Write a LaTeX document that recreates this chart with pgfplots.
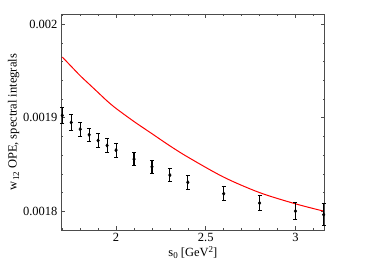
\documentclass[border=0pt]{standalone}
\usepackage{pgfplots}
\pgfplotsset{compat=1.18}
\usepackage{fontspec}
\setmainfont{Liberation Serif}
\begin{document}
\begin{tikzpicture}
\begin{axis}[
  name=ax,
  scale only axis,
  width=263.7pt, height=216pt,
  xmin=1.693, xmax=3.163,
  ymin=0.00178, ymax=0.002011,
  xtick={2,2.5,3}, xticklabels={2,2.5,3},
  minor xtick={1.7,1.8,1.9,2.1,2.2,2.3,2.4,2.6,2.7,2.8,2.9,3.1},
  ytick={0.0018,0.0019,0.002}, yticklabels={0.0018,0.0019,0.002},
  minor ytick={0.00178,0.00182,0.00184,0.00186,0.00188,0.00192,0.00194,0.00196,0.00198,0.002},
  scaled y ticks=false,
  tick align=inside,
  major tick length=4pt, minor tick length=2.2pt,
  every tick/.style={black!70, line width=0.6pt},
  axis line style={black!70, line width=0.7pt},
  tick label style={font=\fontsize{12.5}{14}\selectfont},
  /pgf/number format/assume math mode=true,
  xlabel={s\raisebox{-0.35ex}{\fontsize{9}{10}\selectfont 0} [GeV\raisebox{0.7ex}{\fontsize{9}{10}\selectfont 2}]},
  ylabel={w\raisebox{-0.45ex}{\fontsize{9}{10}\selectfont 12} OPE, spectral integrals},
  label style={font=\fontsize{12.5}{14}\selectfont},
  xlabel style={yshift=2pt},
  ylabel style={yshift=-3pt},
  clip=false,
]
\addplot[red, line width=1pt, smooth, tension=0.5] coordinates {
(1.7,0.001965) (1.75,0.001955) (1.8,0.001945) (1.85,0.001936) (1.9,0.001927)
(1.95,0.001918) (2.0,0.001910) (2.1,0.001896) (2.2,0.001883) (2.3,0.001870)
(2.4,0.001858) (2.6,0.0018365) (2.8,0.001820) (3.0,0.001808) (3.1572,0.0018002)
};
\addplot[black, only marks, mark=diamond*, mark size=1.8pt,
  error bars/.cd, y dir=both, y explicit,
  error bar style={line width=1.1pt},
  error mark options={rotate=90, mark size=2pt, line width=0.9pt}]
coordinates {
(1.7,0.0019025) +- (0,0.0000085)
(1.75,0.0018950) +- (0,0.0000085)
(1.8,0.0018878) +- (0,0.0000075)
(1.85,0.0018818) +- (0,0.0000072)
(1.9,0.0018757) +- (0,0.0000072)
(1.95,0.0018704) +- (0,0.0000072)
(2.0,0.0018654) +- (0,0.0000074)
(2.1,0.0018558) +- (0,0.0000072)
(2.2,0.0018476) +- (0,0.0000072)
(2.3,0.0018387) +- (0,0.0000072)
(2.4,0.0018310) +- (0,0.0000072)
(2.6,0.0018188) +- (0,0.0000075)
(2.8,0.0018088) +- (0,0.0000082)
(3.0,0.0018002) +- (0,0.0000089)
(3.1572,0.0017964) +- (0,0.0000118)
};
\end{axis}
\pgfresetboundingbox
\path ([shift={(-61pt,-40pt)}]ax.south west) rectangle ([shift={(321pt,230pt)}]ax.south west);
\end{tikzpicture}
\end{document}
